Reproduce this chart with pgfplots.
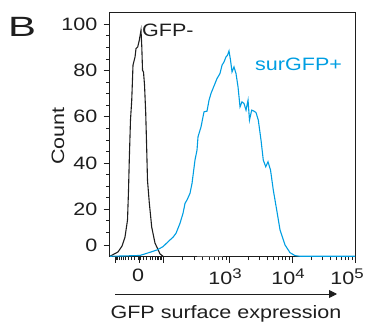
\documentclass[border=0pt]{standalone}
\usepackage{fontspec}
\setmainfont[FakeStretch=1.2]{Liberation Sans}
\usepackage{pgfplots}
\pgfplotsset{compat=1.18}
\usetikzlibrary{arrows.meta}
\definecolor{gfpblue}{RGB}{0,158,226}
\definecolor{txt}{RGB}{30,30,30}
\newcommand{\sx}[1]{\raisebox{6bp}{\fontsize{14}{14}\selectfont #1}}
\begin{document}
\fontsize{18}{21}\selectfont
\begin{tikzpicture}
\path[use as bounding box] (0,0) rectangle (367bp,332bp);
\begin{axis}[
  at={(109.5bp,75.3bp)}, anchor=south west,
  scale only axis, width=245.5bp, height=244bp,
  xmin=1.103, xmax=5, ymin=-0.5, ymax=105,
  axis line style={line width=0.9bp, txt},
  tick align=outside, tick pos=left,
  tick style={txt, line width=0.8bp},
  major tick length=6bp, minor tick length=3.5bp,
  xtick={1.19,1.571,1.952,3,4,5},
  xticklabels={,\hspace*{-2bp}0,,\hspace*{-8bp}10\sx{3},\hspace*{-8bp}10\sx{4},\hspace*{-16bp}10\sx{5}},
  minor xtick={1.211,1.232,1.257,1.285,1.317,1.353,1.396,1.447,1.506,1.556,1.586,1.636,1.695,1.746,1.789,1.825,1.857,1.885,1.910,1.931,
    2.267,2.452,2.583,2.685,2.767,2.838,2.898,2.952,
    3.301,3.477,3.602,3.699,3.778,3.845,3.903,3.954,
    4.301,4.477,4.602,4.699,4.778,4.845,4.903,4.954},
  ytick={4.4,20,40,60,80,100},
  yticklabels={0,20,40,60,80,100},
  minor ytick={10,15,25,30,35,45,50,55,65,70,75,85,90,95},
  ticklabel style={text=txt},
  clip=false,
]
% GFP- (black)
\addplot[txt, line width=1.1bp] coordinates {
(1.111,-0.3)(1.238,1.55)(1.302,4.1)(1.349,8.0)(1.389,15.4)(1.405,28.3)(1.417,41.3)
(1.436,58.5)(1.456,67.2)(1.476,82.3)(1.508,85.8)(1.524,89.5)(1.551,90.2)(1.576,93.1)
(1.603,97.4)(1.616,90.1)(1.627,80.1)(1.643,79.3)(1.659,73.7)(1.678,61.6)(1.694,45.6)
(1.706,32.6)(1.735,22.7)(1.773,12.3)(1.825,5.4)(1.905,0.7)(1.952,-0.3)};
\addplot[txt!70, line width=1.4bp] coordinates {(2.49,-0.3)(2.90,-0.3)};
% surGFP+ (blue)
\addplot[gfpblue, line width=1.1bp] coordinates {
(1.111,-0.3)(1.349,-0.17)(1.587,0.04)(1.698,0.99)(1.857,2.42)(1.952,3.84)(2.063,6.74)
(2.111,7.90)(2.159,9.63)(2.222,13.95)(2.270,18.26)(2.302,22.58)(2.333,24.01)(2.381,26.90)
(2.413,31.22)(2.460,41.28)(2.492,45.60)(2.508,51.34)(2.556,55.66)(2.603,62.13)(2.651,62.44)
(2.683,67.18)(2.714,70.08)(2.746,72.24)(2.810,76.55)(2.857,78.71)(2.889,82.30)(2.921,83.72)
(2.952,85.88)(2.976,86.61)(3.000,88.47)(3.024,84.46)(3.048,79.40)(3.079,81.56)(3.111,78.71)
(3.143,72.93)(3.175,64.29)(3.206,66.45)(3.238,65.76)(3.270,62.87)(3.302,67.18)(3.325,58.55)
(3.360,62.87)(3.397,62.44)(3.429,61.79)(3.465,58.55)(3.508,49.91)(3.544,41.28)(3.583,38.39)
(3.619,40.54)(3.659,36.96)(3.703,28.32)(3.757,19.69)(3.810,11.05)(3.889,4.58)(3.968,1.25)
(4.048,-0.04)(4.127,-0.3)(5.0,-0.3)};
\node[anchor=west, inner sep=0pt, text=txt] at (axis cs:1.619,97.2) {GFP-};
\node[anchor=west, inner sep=0pt, text=gfpblue] at (axis cs:3.413,82.7) {surGFP+};
\end{axis}
\node[text=txt] at (22bp,305bp) {\fontsize{28}{30}\selectfont\scalebox{1.25}[1]{B}};
\node[text=txt, rotate=90] at (58bp,196bp) {Count};
\node[text=txt, anchor=base] at (226bp,13.7bp) {GFP surface expression};
\draw[txt, line width=0.9bp, -{Triangle[length=8bp, width=8bp]}] (115bp,38bp) -- (337bp,38bp);
\end{tikzpicture}
\end{document}
